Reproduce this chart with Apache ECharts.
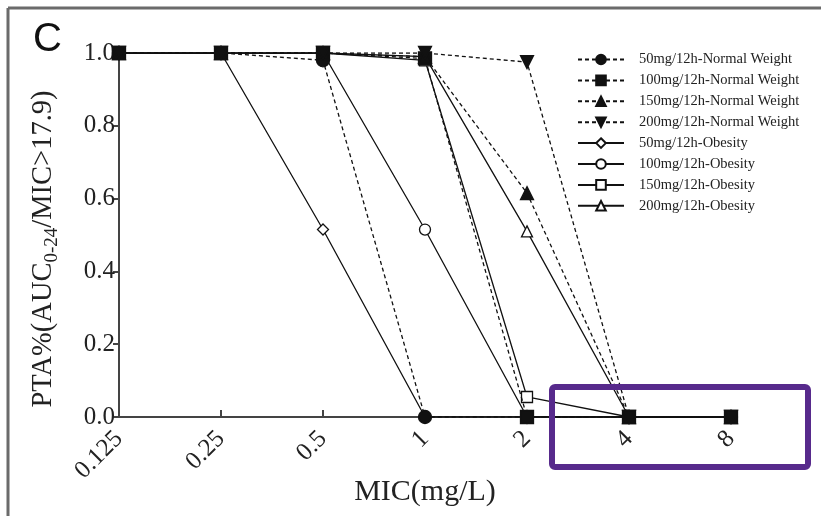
<!DOCTYPE html>
<html>
<head>
<meta charset="utf-8">
<script src="https://cdn.jsdelivr.net/npm/echarts@6/dist/echarts.min.js"></script>
<style>
  html, body { margin: 0; padding: 0; background: #fff; }
  #chart { width: 821px; height: 516px; }
</style>
</head>
<body>
<div id="chart"></div>
<script>
// Categorías de MIC (mg/L)
const micLabels = ['0.125', '0.25', '0.5', '1', '2', '4', '8'];

// Peso normal (líneas discontinuas)
const normal50 = [1, 1, 0.98, 0, 0, 0, 0];
const normal100 = [1, 1, 1, 0.985, 0, 0, 0];
const normal150 = [1, 1, 1, 0.99, 0.615, 0, 0];
const normal200 = [1, 1, 1, 1, 0.975, 0, 0];

// Obesidad (líneas continuas)
const obes50 = [1, 1, 0.515, 0, 0, 0, 0];
const obes100 = [1, 1, 1, 0.515, 0, 0, 0];
const obes150 = [1, 1, 1, 0.98, 0.055, 0, 0];
const obes200 = [1, 1, 1, 0.99, 0.51, 0, 0];

const yTicks = [0, 0.2, 0.4, 0.6, 0.8, 1.0];

const chart = echarts.init(document.getElementById('chart'));
const serif = '"Liberation Serif", "DejaVu Serif", serif';

function serie(name, data, symbol, dashed, extra) {
    return Object.assign({
        name: name,
        type: 'line',
        data: data,
        symbol: symbol,
        symbolSize: dashed ? 13 : 11,
        showAllSymbol: true,
        lineStyle: { color: '#111', width: 1.3, type: dashed ? [4, 3] : 'solid' },
        itemStyle: { color: '#111', borderColor: '#111', borderWidth: 1.3 },
        emphasis: { disabled: true },
        z: dashed ? 3 : 2
    }, extra || {});
}

const openStyle = { itemStyle: { color: '#fff', borderColor: '#111', borderWidth: 1.3 } };

let option = {
    animation: false,
    backgroundColor: '#fff',
    grid: { left: 119, right: 90, top: 53, bottom: 99, outerBoundsMode: 'none' },
    legend: {
        orient: 'vertical',
        left: 572,
        top: 47,
        itemWidth: 46,
        itemHeight: 12,
        itemGap: 5.9,
        textStyle: { fontFamily: serif, fontSize: 14.5, color: '#222', padding: [0, 0, 0, 10] },
        data: [
            '50mg/12h-Normal Weight', '100mg/12h-Normal Weight',
            '150mg/12h-Normal Weight', '200mg/12h-Normal Weight',
            '50mg/12h-Obesity', '100mg/12h-Obesity',
            '150mg/12h-Obesity', '200mg/12h-Obesity'
        ]
    },
    xAxis: {
        type: 'category',
        boundaryGap: false,
        data: micLabels,
        name: 'MIC(mg/L)',
        nameLocation: 'middle',
        nameGap: 60,
        nameMoveOverlap: false,
        nameTextStyle: { fontFamily: serif, fontSize: 30, color: '#222' },
        axisLine: { lineStyle: { color: '#444', width: 2 } },
        axisTick: { inside: true, length: 7, alignWithLabel: true, lineStyle: { color: '#444', width: 2 } },
        axisLabel: { rotate: 45, fontFamily: serif, fontSize: 25, color: '#222', margin: 18 },
        splitLine: { show: false }
    },
    yAxis: {
        type: 'value',
        min: 0,
        max: 1,
        interval: 0.2,
        name: '{a|PTA%(AUC}{s|0-24}{a|/MIC>17.9)}',
        nameLocation: 'middle',
        nameGap: 57,
        nameMoveOverlap: false,
        nameRotate: 90,
        nameTextStyle: {
            padding: [0, 28, 0, 0],
            rich: {
                a: { fontFamily: serif, fontSize: 28.5, color: '#222' },
                s: { fontFamily: serif, fontSize: 19, color: '#222', padding: [17, 0, 0, 0] }
            }
        },
        axisLine: { show: true, lineStyle: { color: '#444', width: 2 } },
        axisTick: { show: true, length: 6, lineStyle: { color: '#444', width: 2 } },
        axisLabel: {
            fontFamily: serif, fontSize: 25, color: '#222', margin: 4,
            formatter: v => yTicks.includes(Math.round(v * 10) / 10) ? v.toFixed(1) : ''
        },
        splitLine: { show: false }
    },
    graphic: [
        { type: 'line', shape: { x1: 8, y1: 8, x2: 821, y2: 8 }, style: { stroke: '#6b6b6b', lineWidth: 3 } },
        { type: 'line', shape: { x1: 8, y1: 8, x2: 8, y2: 516 }, style: { stroke: '#6b6b6b', lineWidth: 3 } },
        { type: 'text', left: 33, top: 20, style: { text: 'C', font: '40px "Liberation Sans", sans-serif', fill: '#111' } },
        // recuadro morado de anotación
        {
            type: 'rect', shape: { x: 552, y: 387, width: 256, height: 80, r: 3 },
            style: { fill: 'none', stroke: '#572a8c', lineWidth: 6 }, z: 100
        }
    ],
    series: [
        serie('50mg/12h-Normal Weight', normal50, 'circle', true),
        serie('100mg/12h-Normal Weight', normal100, 'rect', true),
        serie('150mg/12h-Normal Weight', normal150, 'triangle', true),
        serie('200mg/12h-Normal Weight', normal200, 'triangle', true, { symbolRotate: 180 }),
        serie('50mg/12h-Obesity', obes50, 'diamond', false, openStyle),
        serie('100mg/12h-Obesity', obes100, 'circle', false, openStyle),
        serie('150mg/12h-Obesity', obes150, 'rect', false, openStyle),
        serie('200mg/12h-Obesity', obes200, 'triangle', false, openStyle)
    ]
};

chart.setOption(option);
</script>
</body>
</html>
